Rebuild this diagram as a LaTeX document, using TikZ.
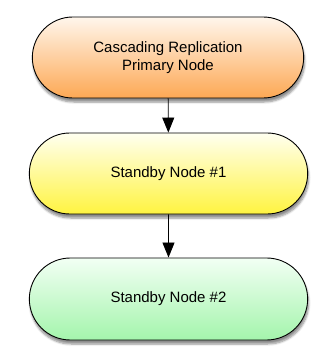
\documentclass[tikz,border=0pt]{standalone}
\usepackage{fontspec}
\setmainfont{Liberation Sans}
\usetikzlibrary{arrows.meta,positioning,shapes.misc,shadows.blur}
\definecolor{peachtop}{RGB}{255,246,236}
\definecolor{peachbot}{RGB}{253,168,84}
\definecolor{lemontop}{RGB}{255,255,240}
\definecolor{lemonbot}{RGB}{255,244,64}
\definecolor{minttop}{RGB}{242,255,244}
\definecolor{mintbot}{RGB}{164,245,172}

\begin{document}
\begin{tikzpicture}[x=1pt,y=1pt,
  nodea/.style={draw,rounded rectangle,line width=0.9pt,minimum width=278pt,minimum height=81pt,
               font=\fontsize{15}{18}\selectfont,align=center,top color=peachtop,bottom color=peachbot,
               blur shadow={shadow xshift=1pt,shadow yshift=-4pt,shadow blur steps=6,shadow opacity=45}},
  nodeb/.style={draw,rounded rectangle,line width=0.9pt,minimum width=285pt,minimum height=81pt,
               font=\fontsize{15}{18}\selectfont,align=center,top color=lemontop,bottom color=lemonbot,
               blur shadow={shadow xshift=1pt,shadow yshift=-4pt,shadow blur steps=6,shadow opacity=45}},
  nodec/.style={draw,rounded rectangle,line width=0.9pt,minimum width=285pt,minimum height=82pt,
               font=\fontsize{15}{18}\selectfont,align=center,top color=minttop,bottom color=mintbot,
               blur shadow={shadow xshift=1pt,shadow yshift=-4pt,shadow blur steps=6,shadow opacity=45}},
  arr/.style={-{Triangle[width=12pt,length=15pt]},line width=0.9pt}]
\useasboundingbox (0,0) rectangle (335,-360);
\node[nodea] (primary)  at (168,-57.5)  {Cascading Replication\\Primary Node};
\node[nodeb] (standby1) at (168.5,-173.5) {Standby Node \#1};
\node[nodec] (standby2) at (168.5,-299) {Standby Node \#2};
\draw[arr] (primary)  -- (standby1);
\draw[arr] (standby1) -- (standby2);
\end{tikzpicture}
\end{document}
